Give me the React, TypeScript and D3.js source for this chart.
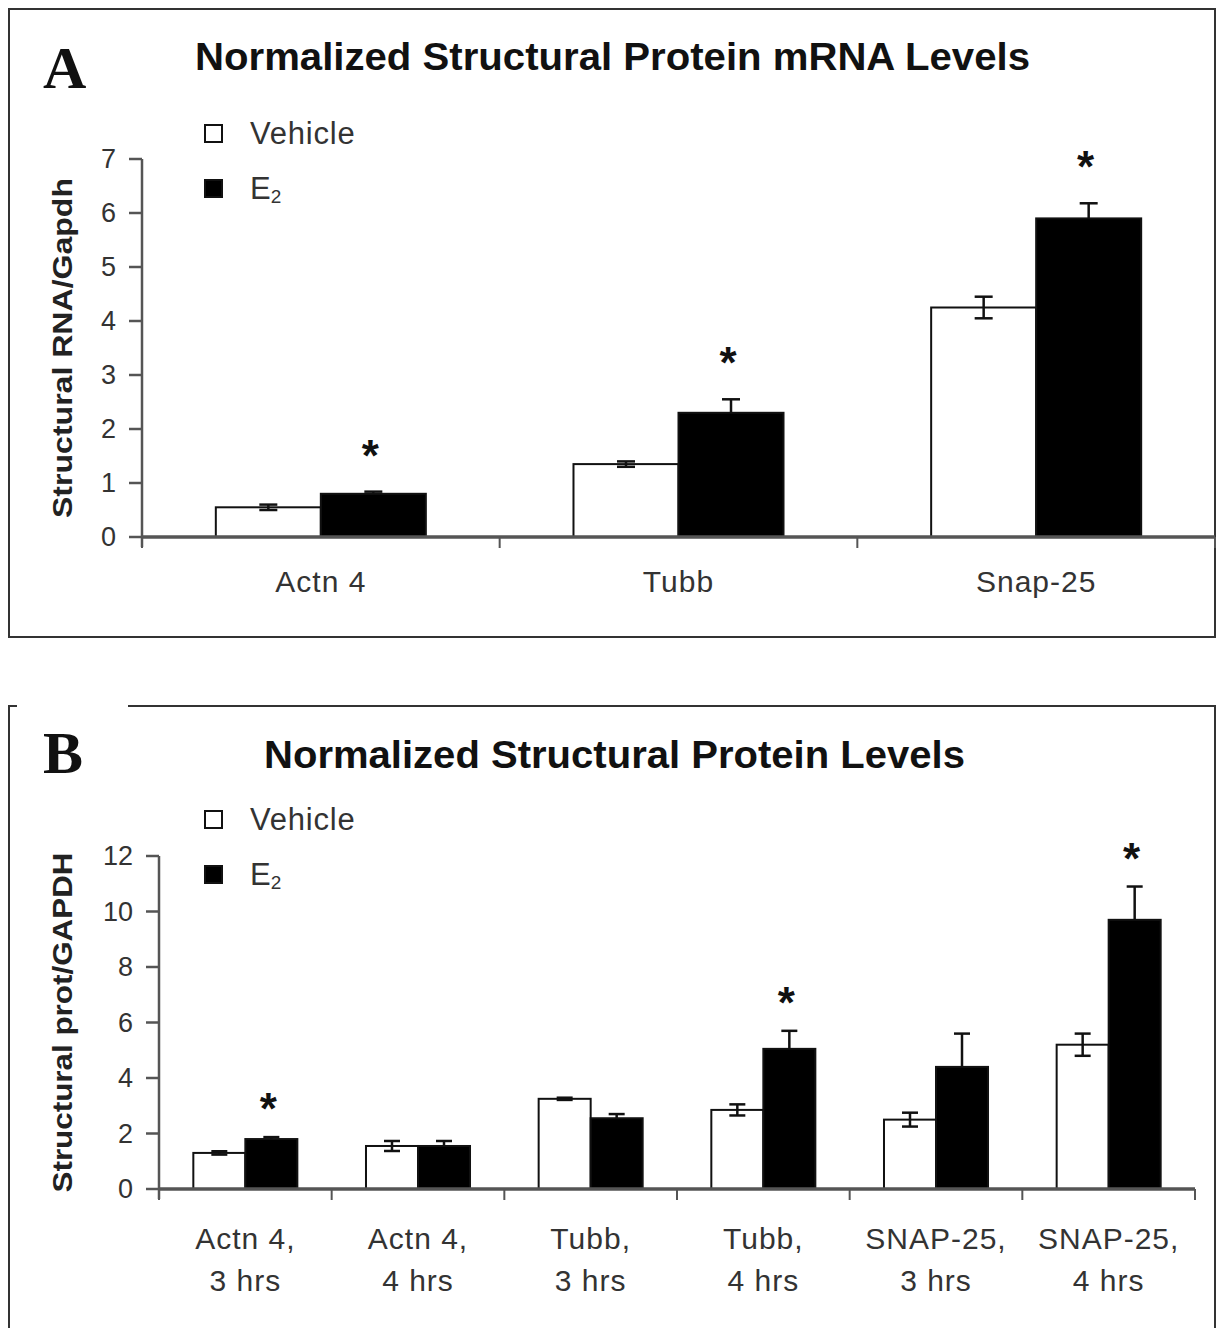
import React, { useEffect } from 'react';
import * as d3 from 'd3';

// panel A data
const catsA = ['Actn 4', 'Tubb', 'Snap-25'];
const vehicleA = [0.55, 1.35, 4.25];
const vehicleErrA = [0.05, 0.05, 0.2];
const e2A = [0.8, 2.3, 5.9];
const e2ErrA = [0.04, 0.25, 0.28];
const sigA = [true, true, true];
const ticksA = [0, 1, 2, 3, 4, 5, 6, 7];

// panel B data
const catsB = [
  ['Actn 4,', '3 hrs'],
  ['Actn 4,', '4 hrs'],
  ['Tubb,', '3 hrs'],
  ['Tubb,', '4 hrs'],
  ['SNAP-25,', '3 hrs'],
  ['SNAP-25,', '4 hrs'],
];
const vehicleB = [1.3, 1.55, 3.25, 2.85, 2.5, 5.2];
const vehicleErrB = [0.06, 0.18, 0.04, 0.2, 0.25, 0.4];
const e2B = [1.8, 1.55, 2.55, 5.05, 4.4, 9.7];
const e2ErrB = [0.07, 0.18, 0.15, 0.65, 1.2, 1.2];
const sigB = [true, false, false, true, false, true];
const ticksB = [0, 2, 4, 6, 8, 10, 12];

const series = ['Vehicle', 'E2'];
const FONT = 'Arial, "Liberation Sans", sans-serif';
const SERIF = '"Liberation Serif", "Times New Roman", serif';

type PanelProps = {
  letter: string;
  letterY: number;
  title: string;
  titleY: number;
  titleX0: number;
  titleX1: number;
  yLabel: string;
  yLabelLen: number;
  cats: string[][];
  vehicle: number[];
  vehicleErr: number[];
  e2: number[];
  e2Err: number[];
  sig: boolean[];
  ticks: number[];
  yMax: number;
  x0: number;
  x1: number;
  axisEnd: number;
  y0: number;
  yTop: number;
  innerPad: number;
  cap: number;
  starGap: number;
  legendY: number;
  labelY: number;
};

const Panel = (p: PanelProps) => {
  const x = d3
    .scaleBand<number>()
    .domain(p.cats.map((_, i) => i))
    .range([p.x0, p.x1])
    .padding(0);
  const inner = d3
    .scaleBand<string>()
    .domain(series)
    .range([0, x.bandwidth()])
    .paddingInner(0)
    .paddingOuter(p.innerPad);
  const y = d3.scaleLinear().domain([0, p.yMax]).range([p.y0, p.yTop]);
  const bw = inner.bandwidth();
  const boundaries = p.cats.map((_, i) => x(i) as number).concat([p.x1]);
  const yMid = (p.y0 + p.yTop) / 2;

  return (
    <g>
      <text x={43} y={p.letterY} fontFamily={SERIF} fontWeight="bold" fontSize={60} fill="#111">
        {p.letter}
      </text>
      <text
        x={p.titleX0}
        y={p.titleY}
        fontFamily={FONT}
        fontWeight="bold"
        fontSize={39}
        textLength={p.titleX1 - p.titleX0}
        lengthAdjust="spacingAndGlyphs"
        fill="#111"
      >
        {p.title}
      </text>

      {/* legend */}
      <rect x={205} y={p.legendY - 8} width={17} height={17} fill="#fff" stroke="#111" strokeWidth={2} />
      <text x={250} y={p.legendY + 11} fontFamily={FONT} fontSize={31} letterSpacing={0.8} fill="#333">
        Vehicle
      </text>
      <rect x={205} y={p.legendY + 47} width={17} height={17} fill="#000" stroke="#111" strokeWidth={2} />
      <text x={250} y={p.legendY + 66} fontFamily={FONT} fontSize={31} fill="#333">
        E<tspan fontSize={19} dy={4}>2</tspan>
      </text>

      {/* y label */}
      <text
        transform={`translate(72, ${yMid}) rotate(-90)`}
        textAnchor="middle"
        fontFamily={FONT}
        fontWeight="bold"
        fontSize={27}
        textLength={p.yLabelLen}
        lengthAdjust="spacingAndGlyphs"
        fill="#222"
      >
        {p.yLabel}
      </text>

      {/* bars */}
      {p.cats.map((_, i) => {
        const bx = x(i) as number;
        const vx = bx + (inner('Vehicle') as number);
        const ex = bx + (inner('E2') as number);
        const vTop = y(p.vehicle[i]);
        const eTop = y(p.e2[i]);
        const vHi = y(p.vehicle[i] + p.vehicleErr[i]);
        const vLo = y(p.vehicle[i] - p.vehicleErr[i]);
        const eHi = y(p.e2[i] + p.e2Err[i]);
        const vc = vx + bw / 2;
        const ec = ex + bw / 2;
        return (
          <g key={i}>
            <rect x={vx} y={vTop} width={bw} height={p.y0 - vTop} fill="#fff" stroke="#111" strokeWidth={2} />
            <rect x={ex} y={eTop} width={bw} height={p.y0 - eTop} fill="#000" stroke="#111" strokeWidth={2} />
            <g stroke="#111" strokeWidth={2.5}>
              <line x1={vc} x2={vc} y1={vHi} y2={vLo} />
              <line x1={vc - p.cap / 2} x2={vc + p.cap / 2} y1={vHi} y2={vHi} />
              <line x1={vc - p.cap / 2} x2={vc + p.cap / 2} y1={vLo} y2={vLo} />
              <line x1={ec} x2={ec} y1={eTop} y2={eHi} />
              <line x1={ec - p.cap / 2} x2={ec + p.cap / 2} y1={eHi} y2={eHi} />
            </g>
            {p.sig[i] && (
              <text x={ec - 3} y={eHi - p.starGap + 24} textAnchor="middle" fontFamily={FONT} fontWeight="bold" fontSize={44} fill="#111">
                *
              </text>
            )}
          </g>
        );
      })}

      {/* y axis */}
      <g stroke="#555" strokeWidth={2.5}>
        <line x1={p.x0} x2={p.x0} y1={p.yTop} y2={p.y0 + 10} />
        {p.ticks.map((t) => (
          <line key={t} x1={p.x0 - 13} x2={p.x0} y1={y(t)} y2={y(t)} />
        ))}
      </g>
      {p.ticks.map((t) => (
        <text key={t} x={p.x0 - 26} y={y(t) + 9} textAnchor="end" fontFamily={FONT} fontSize={27} fill="#333">
          {t}
        </text>
      ))}

      {/* x axis */}
      <g stroke="#555">
        <line x1={p.x0} x2={p.axisEnd} y1={p.y0} y2={p.y0} strokeWidth={3.5} />
        {boundaries.map((b, i) => (
          <line key={i} x1={b} x2={b} y1={p.y0} y2={p.y0 + 11} strokeWidth={2} />
        ))}
      </g>
      {p.cats.map((c, i) => {
        const cx = (x(i) as number) + x.bandwidth() / 2;
        return (
          <text key={i} textAnchor="middle" fontFamily={FONT} fontSize={30} letterSpacing={1} fill="#333">
            {c.map((line, j) => (
              <tspan key={j} x={cx} y={p.labelY + j * 42}>
                {line}
              </tspan>
            ))}
          </text>
        );
      })}
    </g>
  );
};

const App = () => {
  useEffect(() => {
    document.body.style.margin = '0';
  }, []);

  return (
    <svg width={1218} height={1328} style={{ display: 'block', background: '#fff' }}>
      <rect x={0} y={0} width={1218} height={1328} fill="#fff" />
      {/* frame A */}
      <rect x={9} y={9} width={1206} height={628} fill="none" stroke="#333" strokeWidth={2} />
      {/* frame B, open at the top left */}
      <path d="M128,706 H1215 V1330 M9,1330 V706 H17" fill="none" stroke="#333" strokeWidth={2} />

      <Panel
        letter="A"
        letterY={88}
        title="Normalized Structural Protein mRNA Levels"
        titleY={70}
        titleX0={195}
        titleX1={1030}
        yLabel="Structural RNA/Gapdh"
        yLabelLen={340}
        cats={catsA.map((c) => [c])}
        vehicle={vehicleA}
        vehicleErr={vehicleErrA}
        e2={e2A}
        e2Err={e2ErrA}
        sig={sigA}
        ticks={ticksA}
        yMax={7}
        x0={142}
        x1={1215}
        axisEnd={1215}
        y0={537}
        yTop={159}
        innerPad={0.703}
        cap={18}
        starGap={45}
        legendY={133}
        labelY={592}
      />
      <Panel
        letter="B"
        letterY={773}
        title="Normalized Structural Protein Levels"
        titleY={768}
        titleX0={264}
        titleX1={965}
        yLabel="Structural prot/GAPDH"
        yLabelLen={340}
        cats={catsB}
        vehicle={vehicleB}
        vehicleErr={vehicleErrB}
        e2={e2B}
        e2Err={e2ErrB}
        sig={sigB}
        ticks={ticksB}
        yMax={12}
        x0={159}
        x1={1195}
        axisEnd={1195}
        y0={1189}
        yTop={856}
        innerPad={0.66}
        cap={16}
        starGap={37}
        legendY={819}
        labelY={1249}
      />
    </svg>
  );
};

export default App;
